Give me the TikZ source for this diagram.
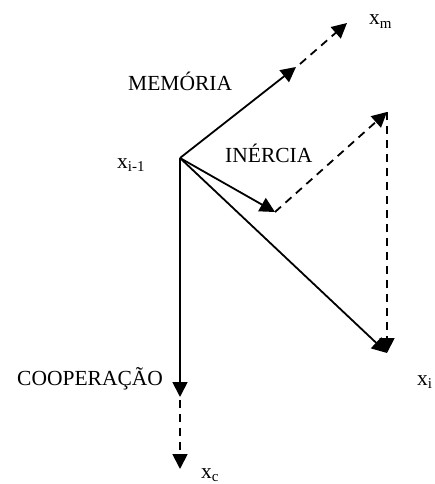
\documentclass[tikz,border=0pt]{standalone}
\usepackage{fontspec}
\setmainfont{Liberation Serif}
\usetikzlibrary{arrows.meta}
\newcommand{\lblsub}[1]{\raisebox{-0.35ex}{\fontsize{15}{17}\selectfont #1}}
\tikzset{
  vec/.style={line width=1.8pt, -{Triangle[length=15pt,width=15pt]}},
  dvec/.style={vec, dash pattern=on 8pt off 6pt},
  lbl/.style={anchor=base west, inner sep=0pt, font=\fontsize{21.5}{24}\selectfont}
}
\begin{document}
\begin{tikzpicture}[x=1pt,y=-1pt]
\useasboundingbox (0,0) rectangle (435,484);
\coordinate (O) at (180,158);
\coordinate (M1) at (296,67);
\coordinate (M2s) at (300,64);
\coordinate (M2) at (347,23);
\coordinate (I1) at (275,212);
\coordinate (I2) at (387,112);
\coordinate (XI) at (387,353);
\coordinate (C1) at (180,397);
\coordinate (C2s) at (180,400);
\coordinate (C2) at (180,469);

\draw[vec] (O) -- (M1);
\draw[dvec] (M2s) -- (M2);
\draw[vec] (O) -- (I1);
\draw[dvec] (I1) -- (I2);
\draw[dvec] (I2) -- (XI);
\draw[vec] (O) -- (XI);
\draw[vec] (O) -- (C1);
\draw[dvec] (C2s) -- (C2);

\node[lbl] (lm) at (369,25) {x\lblsub{m}};
\node[lbl] (lmem) at (128,91) {MEMÓRIA};
\node[lbl] (lim1) at (117,168) {x\lblsub{i-1}};
\node[lbl] (liner) at (225,162) {INÉRCIA};
\node[lbl] (lcoop) at (17,385) {COOPERAÇÃO};
\node[lbl] (li) at (417,385) {x\lblsub{i}};
\node[lbl] (lc) at (201,478) {x\lblsub{c}};
\end{tikzpicture}
\end{document}
